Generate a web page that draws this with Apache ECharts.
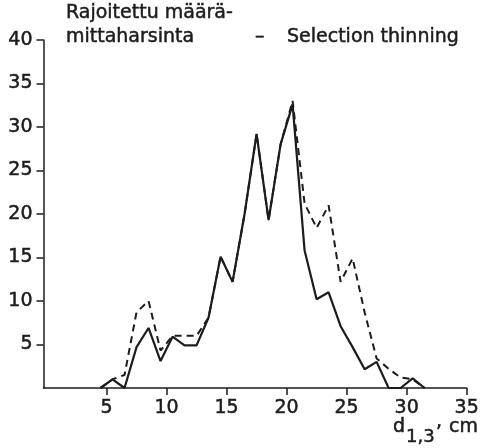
<!DOCTYPE html>
<html>
<head>
<meta charset="utf-8">
<script src="https://cdn.jsdelivr.net/npm/echarts@6/dist/echarts.min.js"></script>
<style>
html,body{margin:0;padding:0;background:#fff;}
#chart{width:482px;height:448px;}
</style>
</head>
<body>
<div id="chart"></div>
<script>
// Diameter class midpoints (cm)
const diameters = [4.5,5.5,6.5,7.5,8.5,9.5,10.5,11.5,12.5,13.5,14.5,15.5,16.5,17.5,18.5,19.5,20.5,21.5,22.5,23.5,24.5,25.5,26.5,27.5,28.5,29.5,30.5,31.5];
// Solid line values
const solidValues = [0,1,0,4.7,6.9,3.1,5.9,4.9,4.9,8.1,15.1,12.2,20,29.2,19.3,28,32.6,15.8,10.2,11,7.1,4.7,2.15,3,0,0,1.1,0];
// Dashed line values
const dashedValues = [0,1,1.5,8.7,10,4.3,6,6,6,8.1,15.1,12.2,20,29.2,19.3,28,33,21.2,18.4,21,12.2,14.9,8.7,3.4,2.2,1.2,1,0];
// Tick labels
const xTicks = [5,10,15,20,25,30,35];
const yTicks = [5,10,15,20,25,30,35,40];

const FONT = '"DejaVu Sans", sans-serif';
const INK = '#1c1c1c';

const chart = echarts.init(document.getElementById('chart'), null, {renderer:'canvas'});
const pair = (vals) => diameters.map((d,i) => [d, vals[i]]);

function txt(text, x, y, size){
  return {type:'text', x:x, y:y, style:{text:text, fill:INK, font: size+'px '+FONT,
    stroke:INK, lineWidth:0.5,
    textVerticalAlign:'top', verticalAlign:'top'}};
}

chart.setOption({
  animation:false,
  backgroundColor:'#fff',
  grid:{left:43.5, right:14, top:40, bottom:60, containLabel:false},
  xAxis:{
    type:'value', min:-0.25, max:35,
    axisLine:{onZero:false, lineStyle:{color:INK, width:1.5}},
    axisTick:{show:true, length:7, customValues:xTicks, lineStyle:{color:INK, width:1.5}},
    axisLabel:{customValues:xTicks, color:INK, fontFamily:FONT, fontSize:19, margin:11,
      textBorderColor:INK, textBorderWidth:0.5},
    splitLine:{show:false}
  },
  yAxis:{
    type:'value', min:0, max:40,
    axisLine:{show:true, onZero:false, lineStyle:{color:INK, width:1.5}},
    axisTick:{show:true, length:7, customValues:yTicks, lineStyle:{color:INK, width:1.5}},
    axisLabel:{customValues:yTicks, color:INK, fontFamily:FONT, fontSize:19, margin:11,
      textBorderColor:INK, textBorderWidth:0.5},
    splitLine:{show:false}
  },
  series:[
    {type:'line', data:pair(dashedValues), symbol:'none', z:2,
     lineStyle:{color:INK, width:2, type:[7,5]}},
    {type:'line', data:pair(solidValues), symbol:'none', z:3,
     lineStyle:{color:INK, width:2.2}}
  ],
  graphic:[
    txt('Rajoitettu määrä-', 66, 4, 19),
    txt('mittaharsinta', 66, 28, 19),
    txt('–', 255, 28, 19),
    txt('Selection thinning', 287, 28, 19),
    txt('d', 393, 418, 19),
    txt('1,3', 406, 428, 18),
    txt(',', 436, 413, 19),
    txt('cm', 449, 418, 19)
  ]
});
</script>
</body>
</html>
